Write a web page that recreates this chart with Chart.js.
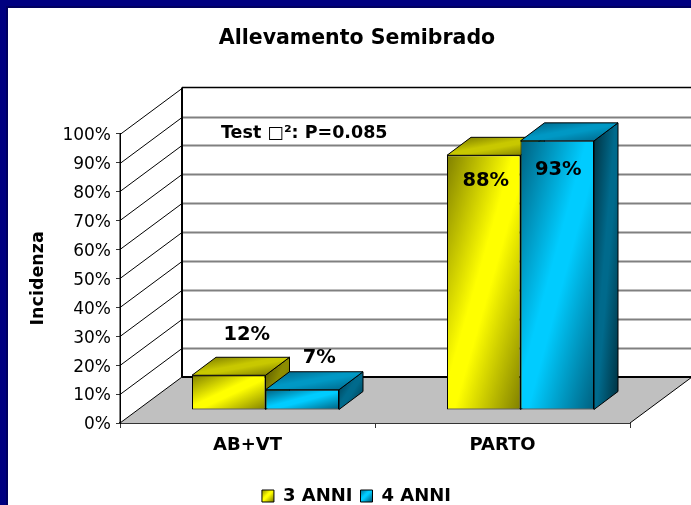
<!DOCTYPE html>
<html>
<head>
<meta charset="utf-8">
<style>html,body{margin:0;padding:0;background:#fff;overflow:hidden}canvas{display:block}</style>
<script src="https://cdn.jsdelivr.net/npm/chart.js@4"></script>
</head>
<body>
<canvas id="c" width="691" height="505"></canvas>
<script>
const categories = ['AB+VT', 'PARTO'];
const seriesNames = ['3 ANNI', '4 ANNI'];
const values3Anni = [12, 88];
const values4Anni = [7, 93];
const yTickStep = 10;
const titleText = 'Allevamento Semibrado';
const yAxisText = 'Incidenza';
const noteText = 'Test \u25A1\u00B2: P=0.085';

const FONT = '"DejaVu Sans"';
const wall = {dx: 62, dy: -46};      // depth of the plot box
const barShift = {dx: 18, dy: -13}; // bars stand inside the floor
const barDepth = {dx: 24, dy: -18};
const labelOffsets = [[{dx: 18, dy: -40}, {dx: 2, dy: 26}], [{dx: 17, dy: -32}, {dx: 1, dy: 29}]];
const shades = [
  {front: ['#808000', '#ffff00'], top: ['#6e6e00', '#c8c800'], side: ['#4d4d00', '#8c8c00']},
  {front: ['#00607f', '#00ccff'], top: ['#005f80', '#0098c4'], side: ['#00303f', '#006a8c']}
];

function diag(ctx, x, y, w, h, pair) {
  const k = 2 * w * h / (w * w + h * h);
  const g = ctx.createLinearGradient(x, y, x + k * h, y + k * w);
  g.addColorStop(0, pair[0]); g.addColorStop(0.45, pair[1]); g.addColorStop(0.55, pair[1]); g.addColorStop(1, pair[0]);
  return g;
}
function poly(ctx, pts, fill, stroke, lw) {
  ctx.beginPath();
  pts.forEach((p, i) => i ? ctx.lineTo(p[0], p[1]) : ctx.moveTo(p[0], p[1]));
  ctx.closePath();
  if (fill) { ctx.fillStyle = fill; ctx.fill(); }
  if (stroke) { ctx.strokeStyle = stroke; ctx.lineWidth = lw || 1; ctx.stroke(); }
}
function seg(ctx, x1, y1, x2, y2, color, lw) {
  ctx.beginPath(); ctx.moveTo(x1, y1); ctx.lineTo(x2, y2);
  ctx.strokeStyle = color; ctx.lineWidth = lw; ctx.stroke();
}

const scene = {
  id: 'scene',
  afterLayout(chart) {
    chart.titleBlock.left = 84; chart.titleBlock.right = 630;
    chart.legend.left = 83; chart.legend.right = 630;
    chart.legend.top += 10; chart.legend.bottom += 10;
  },
  beforeDraw(chart) {
    const ctx = chart.ctx;
    ctx.fillStyle = '#000080'; ctx.fillRect(0, 0, chart.width, chart.height);
    ctx.fillStyle = '#000060'; ctx.fillRect(6, 6, chart.width, chart.height);
    ctx.fillStyle = '#ffffff'; ctx.fillRect(8, 8, chart.width, chart.height);
  },
  beforeDatasetsDraw(chart) {
    const ctx = chart.ctx, xs = chart.scales.x, ys = chart.scales.y;
    const L = xs.left, R = xs.right, y0 = ys.getPixelForValue(0), y1 = ys.getPixelForValue(100);
    const d = wall;
    ctx.save();
    // floor
    poly(ctx, [[L, y0], [L + d.dx, y0 + d.dy], [R + d.dx, y0 + d.dy], [R, y0]], '#c0c0c0');
    // grid on both walls
    ys.ticks.forEach(t => {
      const p = Math.round(ys.getPixelForValue(t.value)) + 0.5;
      if (t.value > 0) {
        seg(ctx, L, p, L + d.dx, p + d.dy, '#000000', 1);
        if (t.value < 100) seg(ctx, L + d.dx, p + d.dy, R + d.dx, p + d.dy, '#808080', 2);
      }
    });
    seg(ctx, L, y0, L + d.dx, y0 + d.dy, '#000000', 1);
    seg(ctx, L + d.dx, y1 + d.dy, R + d.dx, y1 + d.dy, '#000000', 1.5);
    seg(ctx, L + d.dx, y0 + d.dy, R + d.dx, y0 + d.dy, '#000000', 2);
    seg(ctx, L + d.dx, y1 + d.dy, L + d.dx, y0 + d.dy, '#000000', 2);
    seg(ctx, L, y1, L, y0, '#000000', 1);
    seg(ctx, R, y0, R + d.dx, y0 + d.dy, '#000000', 1);
    // bars, yellow first so the blue front covers it
    chart.data.datasets.forEach((ds, i) => {
      const meta = chart.getDatasetMeta(i), sh = shades[i];
      ctx.save();
      ctx.translate(barShift.dx, barShift.dy);
      meta.data.forEach(el => {
        const l = el.x - el.width / 2, r = el.x + el.width / 2, t = el.y, b = el.base;
        const bd = barDepth;
        poly(ctx, [[r, t], [r + bd.dx, t + bd.dy], [r + bd.dx, b + bd.dy], [r, b]],
          diag(ctx, r, t + bd.dy, bd.dx, b - t - bd.dy, sh.side), '#000000', 1);
        poly(ctx, [[l, t], [l + bd.dx, t + bd.dy], [r + bd.dx, t + bd.dy], [r, t]],
          diag(ctx, l, t + bd.dy, r - l + bd.dx, -bd.dy, sh.top), '#000000', 1);
        el.options = Object.assign({}, el.options, {backgroundColor: diag(ctx, l, t, r - l, b - t, sh.front)});
      });
      meta.controller.draw();
      ctx.restore();
    });
    ctx.restore();
  },
  beforeDatasetDraw() { return false; },
  afterDatasetsDraw(chart) {
    const ctx = chart.ctx;
    ctx.save();
    ctx.fillStyle = '#000000';
    ctx.textAlign = 'center'; ctx.textBaseline = 'middle';
    ctx.font = 'bold 19.5px ' + FONT;
    chart.data.datasets.forEach((ds, i) => {
      chart.getDatasetMeta(i).data.forEach((el, j) => {
        const o = labelOffsets[i][j];
        ctx.fillText(ds.data[j] + '%', el.x + barShift.dx + o.dx, el.y + barShift.dy + o.dy);
      });
    });
    ctx.textAlign = 'left';
    ctx.font = 'bold 17.5px ' + FONT;
    ctx.fillText(noteText, 221, 133);
    ctx.restore();
  }
};

new Chart(document.getElementById('c'), {
  type: 'bar',
  data: {
    labels: categories,
    datasets: [
      {label: seriesNames[0], data: values3Anni, backgroundColor: '#ffff00'},
      {label: seriesNames[1], data: values4Anni, backgroundColor: '#00ccff'}
    ]
  },
  plugins: [scene],
  options: {
    responsive: false,
    animation: false,
    devicePixelRatio: 1,
    layout: {padding: {left: 28, right: 61, top: 0, bottom: 0}},
    datasets: {bar: {
      barPercentage: 1, categoryPercentage: 0.5765,
      borderColor: '#000000', borderWidth: 1, borderSkipped: false, clip: false
    }},
    plugins: {
      title: {
        display: true, text: titleText, color: '#000000',
        font: {family: FONT, size: 20.5, weight: 'bold', lineHeight: 1.2},
        padding: {top: 26, bottom: 83}
      },
      legend: {
        position: 'bottom',
        labels: {
          color: '#000000', boxWidth: 12, boxHeight: 12, padding: 8,
          font: {family: FONT, size: 18, weight: 'bold'},
          generateLabels(chart) {
            const ctx = chart.ctx, boxes = [[262, 489], [360, 489]];
            return chart.data.datasets.map((ds, i) => ({
              text: ds.label, datasetIndex: i, lineWidth: 1, strokeStyle: '#000000', fontColor: '#000000',
              fillStyle: diag(ctx, boxes[i][0], boxes[i][1], 12, 12, shades[i].front)
            }));
          }
        }
      },
      tooltip: {enabled: false}
    },
    scales: {
      x: {
        afterFit(s) { s.height = 46; },
        grid: {display: true, drawOnChartArea: false, tickLength: 5, color: '#333333', tickColor: '#333333'},
        border: {display: true, color: '#333333', width: 2},
        ticks: {color: '#000000', padding: 7, maxRotation: 0, font: {family: FONT, size: 18, weight: 'bold'}}
      },
      y: {
        min: 0, max: 100,
        afterFit(s) { s.width = 92; },
        title: {display: true, text: yAxisText, color: '#000000', padding: 0,
          font: {family: FONT, size: 17.5, weight: 'bold'}},
        grid: {display: true, drawOnChartArea: false, tickLength: 4, color: '#333333', tickColor: '#333333'},
        border: {display: true, color: '#000000', width: 1},
        ticks: {stepSize: yTickStep, color: '#000000', padding: 5, autoSkip: false, labelOffset: 2,
          font: {family: FONT, size: 17}, callback: v => v + '%'}
      }
    }
  }
});
</script>
</body>
</html>
